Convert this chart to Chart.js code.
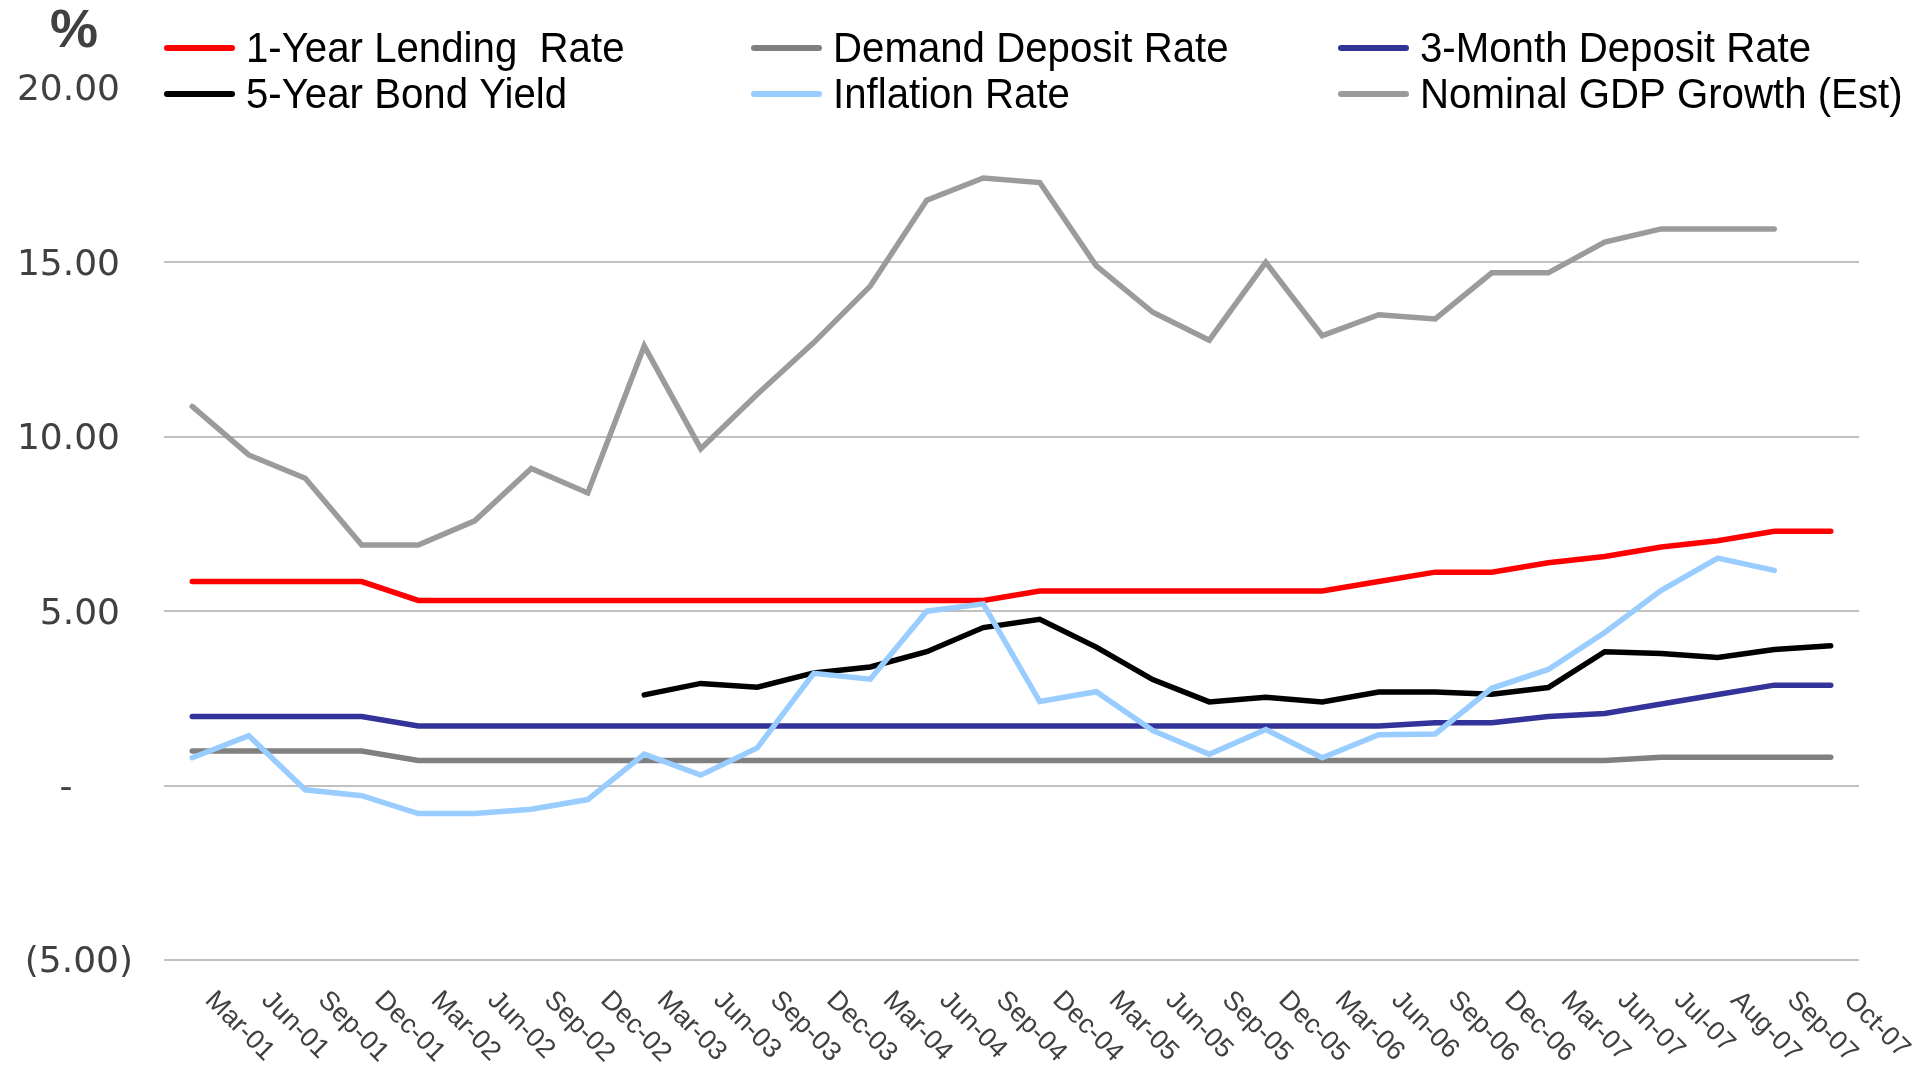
<!DOCTYPE html>
<html>
<head>
<meta charset="utf-8">
<script src="https://cdn.jsdelivr.net/npm/chart.js@4.4.1/dist/chart.umd.min.js"></script>
<style>
  html, body { margin: 0; padding: 0; background: #fff; }
  #wrap { width: 1930px; height: 1066px; }
</style>
</head>
<body>
<div id="wrap"><canvas id="rateChart" width="1930" height="1066"></canvas></div>
<script>
// quarterly readings, Mar-01 .. Oct-07
const quarters = [
  'Mar-01', 'Jun-01', 'Sep-01', 'Dec-01',
  'Mar-02', 'Jun-02', 'Sep-02', 'Dec-02',
  'Mar-03', 'Jun-03', 'Sep-03', 'Dec-03',
  'Mar-04', 'Jun-04', 'Sep-04', 'Dec-04',
  'Mar-05', 'Jun-05', 'Sep-05', 'Dec-05',
  'Mar-06', 'Jun-06', 'Sep-06', 'Dec-06',
  'Mar-07', 'Jun-07', 'Jul-07', 'Aug-07', 'Sep-07', 'Oct-07'
];

const lendingRate = [
  5.85, 5.85, 5.85, 5.85,
  5.31, 5.31, 5.31, 5.31,
  5.31, 5.31, 5.31, 5.31,
  5.31, 5.31, 5.31, 5.58,
  5.58, 5.58, 5.58, 5.58,
  5.58, 5.85, 6.12, 6.12,
  6.39, 6.57, 6.84, 7.02, 7.29, 7.29
];

const demandDeposit = [
  0.99, 0.99, 0.99, 0.99,
  0.72, 0.72, 0.72, 0.72,
  0.72, 0.72, 0.72, 0.72,
  0.72, 0.72, 0.72, 0.72,
  0.72, 0.72, 0.72, 0.72,
  0.72, 0.72, 0.72, 0.72,
  0.72, 0.72, 0.81, 0.81, 0.81, 0.81
];

const threeMonthDeposit = [
  1.98, 1.98, 1.98, 1.98,
  1.71, 1.71, 1.71, 1.71,
  1.71, 1.71, 1.71, 1.71,
  1.71, 1.71, 1.71, 1.71,
  1.71, 1.71, 1.71, 1.71,
  1.71, 1.71, 1.80, 1.80,
  1.98, 2.07, 2.34, 2.61, 2.88, 2.88
];

const bondYield = [
  null, null, null, null,
  null, null, null, null,
  2.60, 2.93, 2.82, 3.23,
  3.40, 3.84, 4.53, 4.77,
  3.97, 3.04, 2.40, 2.53,
  2.40, 2.68, 2.68, 2.62,
  2.81, 3.84, 3.79, 3.67, 3.90, 4.01
];

const inflation = [
  0.80, 1.43, -0.12, -0.29,
  -0.80, -0.80, -0.68, -0.40,
  0.90, 0.30, 1.08, 3.22,
  3.05, 5.00, 5.21, 2.41,
  2.69, 1.58, 0.90, 1.61,
  0.80, 1.46, 1.48, 2.79,
  3.33, 4.39, 5.60, 6.52, 6.17, null
];

const nominalGdp = [
  10.87, 9.48, 8.81, 6.90,
  6.90, 7.59, 9.09, 8.39,
  12.60, 9.66, 11.22, 12.70,
  14.32, 16.78, 17.42, 17.29,
  14.90, 13.57, 12.77, 15.00,
  12.90, 13.50, 13.38, 14.70,
  14.70, 15.58, 15.96, 15.96, 15.96, null
];

const seriesNames = [
  '1-Year Lending  Rate', 'Demand Deposit Rate', '3-Month Deposit Rate',
  '5-Year Bond Yield', 'Inflation Rate', 'Nominal GDP Growth (Est)'
];
const seriesColors = ['#FF0000', '#808080', '#333399', '#000000', '#99CCFF', '#9B9B9B'];
const seriesData = [lendingRate, demandDeposit, threeMonthDeposit, bondYield, inflation, nominalGdp];

// excel-style axis text, legend and the % caption
const chartText = {
  id: 'chartText',
  afterDraw(chart) {
    const ctx = chart.ctx;
    const xs = chart.scales.x;
    const ys = chart.scales.y;
    ctx.save();

    // y tick labels (accounting format)
    ctx.fillStyle = '#404040';
    ctx.font = '36px "DejaVu Sans"';
    ctx.textBaseline = 'middle';
    ys.ticks.forEach(t => {
      const py = ys.getPixelForValue(t.value) + 3;
      if (t.value > 0) {
        ctx.textAlign = 'right';
        ctx.fillText(t.value.toFixed(2), 120, py);
      } else if (t.value === 0) {
        ctx.textAlign = 'center';
        ctx.fillText('-', 66, py);
      } else {
        ctx.textAlign = 'right';
        ctx.fillText('(' + Math.abs(t.value).toFixed(2) + ')', 133, py);
      }
    });

    // x labels, slanted downwards
    ctx.font = '27px "Liberation Sans", Arial, sans-serif';
    ctx.textAlign = 'left';
    quarters.forEach((lab, i) => {
      const px = xs.getPixelForValue(i);
      ctx.save();
      ctx.translate(px + 17, ys.bottom + 36);
      ctx.rotate(Math.PI / 4);
      ctx.fillText(lab, 0, 0);
      ctx.restore();
    });

    // % caption
    ctx.font = 'bold 54px "Liberation Sans", Arial, sans-serif';
    ctx.textAlign = 'center';
    ctx.fillText('%', 74, 32);

    // legend, 3 columns x 2 rows
    const cols = [164, 751, 1338];
    const rows = [48, 94];
    ctx.font = '43px "Liberation Sans", Arial, sans-serif';
    ctx.textAlign = 'left';
    chart.data.datasets.forEach((ds, i) => {
      const lx = cols[i % 3];
      const ly = rows[Math.floor(i / 3)];
      ctx.strokeStyle = ds.borderColor;
      ctx.lineWidth = 6;
      ctx.lineCap = 'round';
      ctx.beginPath();
      ctx.moveTo(lx + 3, ly);
      ctx.lineTo(lx + 68, ly);
      ctx.stroke();
      ctx.save();
      ctx.translate(lx + 82, ly + 2);
      ctx.scale(0.935, 1);
      ctx.fillStyle = '#000';
      ctx.fillText(ds.label, 0, 0);
      ctx.restore();
    });

    ctx.restore();
  }
};

const ctx = document.getElementById('rateChart').getContext('2d');

new Chart(ctx, {
  type: 'line',
  data: {
    labels: quarters,
    datasets: seriesNames.map((name, i) => ({
      label: name,
      data: seriesData[i],
      borderColor: seriesColors[i],
      backgroundColor: seriesColors[i],
      borderWidth: 5.5,
      borderCapStyle: 'round',
      pointRadius: 0,
      tension: 0,
      fill: false,
      order: seriesNames.length - i
    }))
  },
  options: {
    responsive: false,
    animation: false,
    devicePixelRatio: 1,
    layout: { padding: { top: 88, right: 71, left: 0, bottom: 0 } },
    plugins: {
      legend: { display: false },
      tooltip: { enabled: false }
    },
    scales: {
      x: {
        offset: true,
        grid: { display: false },
        border: { display: false },
        ticks: { display: false },
        afterFit: s => { s.height = 106; }
      },
      y: {
        min: -5,
        max: 20,
        ticks: { stepSize: 5, display: false },
        border: { display: false },
        grid: {
          drawTicks: false,
          lineWidth: 2,
          color: c => (c.tick && c.tick.value === 20) ? 'rgba(0,0,0,0)' : '#C0C0C0'
        },
        afterFit: s => { s.width = 164; }
      }
    }
  },
  plugins: [chartText]
});
</script>
</body>
</html>
